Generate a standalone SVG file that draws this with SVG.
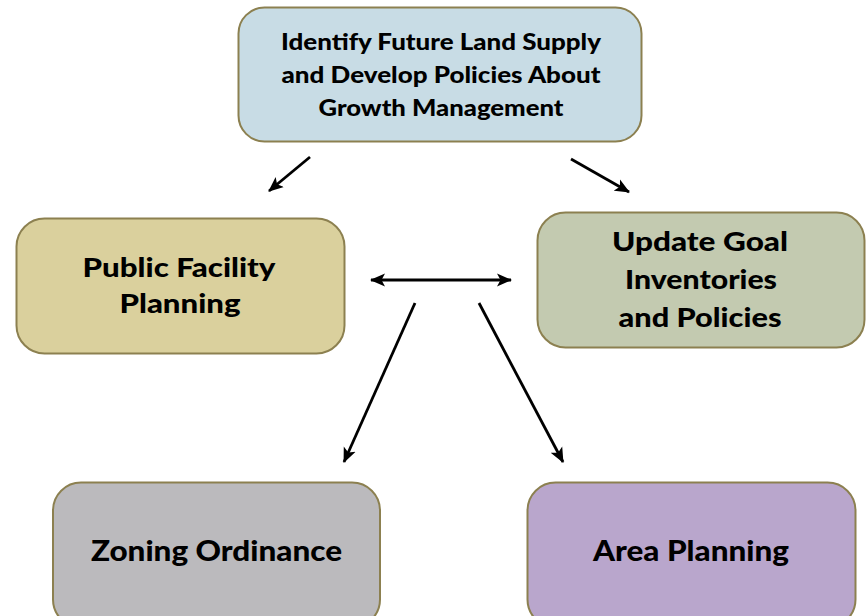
<svg xmlns="http://www.w3.org/2000/svg" width="867" height="616" viewBox="0 0 867 616">
<style>
.box{stroke:#8c8050;stroke-width:2}
.t{font-family:Lato,"Liberation Sans",sans-serif;font-weight:900;fill:#000;text-anchor:middle}
.conn{stroke:#000;stroke-width:2.8;fill:none}
</style>
<defs>
<marker id="ah" markerUnits="userSpaceOnUse" markerWidth="16" markerHeight="14" viewBox="0 0 16 14" refX="14" refY="7" orient="auto-start-reverse">
<path d="M0,0.5 L15,7 L0,13.5 L3.5,7 Z" fill="#000"/>
</marker>
</defs>
<rect width="867" height="616" fill="#fff"/>
<g id="connectors">
<line class="conn" x1="310" y1="157" x2="269" y2="191" marker-end="url(#ah)"/>
<line class="conn" x1="571" y1="159" x2="629" y2="192" marker-end="url(#ah)"/>
<line class="conn" x1="371" y1="280" x2="511" y2="280" marker-start="url(#ah)" marker-end="url(#ah)"/>
<line class="conn" x1="415" y1="303" x2="344" y2="462" marker-end="url(#ah)"/>
<line class="conn" x1="479" y1="303" x2="563" y2="462" marker-end="url(#ah)"/>
</g>
<g id="node-top">
<rect class="box" x="238.5" y="7.5" width="403" height="134" rx="26" fill="#c8dce5"/>
<text class="t" font-size="22" x="441" y="50" textLength="320" lengthAdjust="spacingAndGlyphs">Identify Future Land Supply</text>
<text class="t" font-size="22" x="441" y="83" textLength="319" lengthAdjust="spacingAndGlyphs">and Develop Policies About</text>
<text class="t" font-size="22" x="441" y="116" textLength="245" lengthAdjust="spacingAndGlyphs">Growth Management</text>
</g>
<g id="node-public">
<rect class="box" x="16.5" y="218.5" width="328" height="135" rx="28" fill="#dad09d"/>
<text class="t" font-size="27" x="179" y="277" textLength="193" lengthAdjust="spacingAndGlyphs">Public Facility</text>
<text class="t" font-size="27" x="180" y="313" textLength="121" lengthAdjust="spacingAndGlyphs">Planning</text>
</g>
<g id="node-update">
<rect class="box" x="537.5" y="212.5" width="327" height="135" rx="28" fill="#c3cab0"/>
<text class="t" font-size="27" x="700" y="251" textLength="176" lengthAdjust="spacingAndGlyphs">Update Goal</text>
<text class="t" font-size="27" x="701" y="289" textLength="152" lengthAdjust="spacingAndGlyphs">Inventories</text>
<text class="t" font-size="27" x="700" y="327" textLength="163" lengthAdjust="spacingAndGlyphs">and Policies</text>
</g>
<g id="node-zoning">
<rect class="box" x="53" y="482.5" width="327" height="145" rx="28" fill="#bbbabd"/>
<text class="t" font-size="28" x="216.5" y="561" textLength="251" lengthAdjust="spacingAndGlyphs">Zoning Ordinance</text>
</g>
<g id="node-area">
<rect class="box" x="527.5" y="482.5" width="328" height="145" rx="28" fill="#b9a6cc"/>
<text class="t" font-size="28" x="691" y="561" textLength="196" lengthAdjust="spacingAndGlyphs">Area Planning</text>
</g>
</svg>
